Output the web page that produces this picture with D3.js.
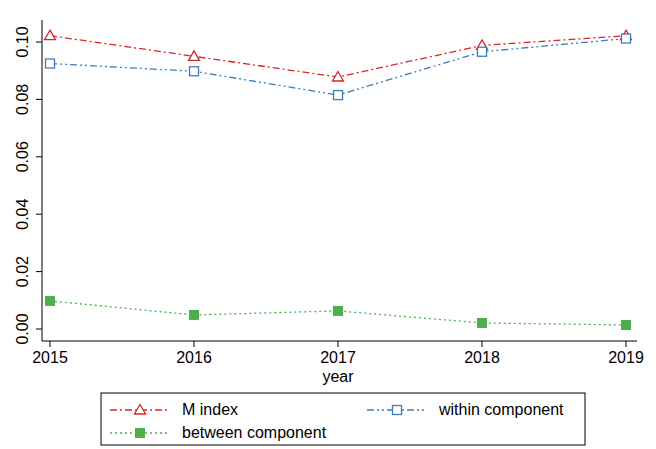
<!DOCTYPE html>
<html><head><meta charset="utf-8">
<script src="https://cdn.jsdelivr.net/npm/d3@7"></script>
<style>body{margin:0;background:#fff}text{font-family:"Liberation Sans",Arial,sans-serif}</style>
</head><body>
<script>
var years = [2015, 2016, 2017, 2018, 2019];
var mIndex = [0.1022, 0.0950, 0.0878, 0.0988, 0.1022];
var within = [0.0925, 0.0898, 0.0815, 0.0966, 0.1012];
var between = [0.0098, 0.0049, 0.0063, 0.0021, 0.0014];
var yTicks = [0, 0.02, 0.04, 0.06, 0.08, 0.10];

var w = 656, h = 449;
var svg = d3.select("body").append("svg").attr("width", w).attr("height", h);
var x = d3.scaleLinear().domain([2015, 2019]).range([50, 626]);
var y = d3.scaleLinear().domain([0, 0.1]).range([329, 42]);

// axes
svg.append("line").attr("x1", 42).attr("x2", 637).attr("y1", 341).attr("y2", 341).attr("stroke", "#000");
svg.append("line").attr("x1", 42).attr("x2", 42).attr("y1", 20).attr("y2", 341).attr("stroke", "#000");
years.forEach(function(t){
  svg.append("line").attr("x1", x(t)).attr("x2", x(t)).attr("y1", 341).attr("y2", 347).attr("stroke", "#000");
  svg.append("text").attr("x", x(t)).attr("y", 363).attr("text-anchor", "middle").attr("font-size", 16).text(t);
});
yTicks.forEach(function(t){
  svg.append("line").attr("x1", 36).attr("x2", 42).attr("y1", y(t)).attr("y2", y(t)).attr("stroke", "#000");
  svg.append("text").attr("transform", "translate(28," + y(t) + ") rotate(-90)")
    .attr("text-anchor", "middle").attr("font-size", 16).text(d3.format(".2f")(t));
});
svg.append("text").attr("x", 338).attr("y", 382).attr("text-anchor", "middle").attr("font-size", 16).text("year");

var line = d3.line().x(function(d, i){ return x(years[i]); }).y(function(d){ return y(d); });
var series = [
  {data: mIndex, color: "#d62728", dash: "7,3,2,3", mark: "tri"},
  {data: within, color: "#3a7dbf", dash: "7,3,2,3,2,3", mark: "sq"},
  {data: between, color: "#4bb04b", dash: "2,3", mark: "fsq"}
];
function marker(g, kind, c, px, py){
  if (kind === "tri") g.append("path").attr("d", "M" + px + "," + (py - 5.5) + "L" + (px + 5.5) + "," + (py + 4) + "L" + (px - 5.5) + "," + (py + 4) + "Z")
    .attr("fill", "#fff").attr("stroke", c).attr("stroke-width", 1.3);
  else if (kind === "sq") g.append("rect").attr("x", px - 4.5).attr("y", py - 4.5).attr("width", 9).attr("height", 9)
    .attr("fill", "#fff").attr("stroke", c).attr("stroke-width", 1.3);
  else g.append("rect").attr("x", px - 5).attr("y", py - 5).attr("width", 10).attr("height", 10).attr("fill", c);
}
series.forEach(function(s){
  svg.append("path").datum(s.data).attr("d", line).attr("fill", "none")
    .attr("stroke", s.color).attr("stroke-width", 1.3).attr("stroke-dasharray", s.dash);
  s.data.forEach(function(v, i){ marker(svg, s.mark, s.color, x(years[i]), y(v)); });
});

// legend
svg.append("rect").attr("x", 101).attr("y", 393).attr("width", 484).attr("height", 52).attr("fill", "#fff").attr("stroke", "#000");
var leg = [
  {s: series[0], lx: 110, ly: 410, label: "M index"},
  {s: series[2], lx: 110, ly: 433, label: "between component"},
  {s: series[1], lx: 367, ly: 410, label: "within component"}
];
leg.forEach(function(l){
  svg.append("line").attr("x1", l.lx).attr("x2", l.lx + 60).attr("y1", l.ly).attr("y2", l.ly)
    .attr("stroke", l.s.color).attr("stroke-width", 1.3).attr("stroke-dasharray", l.s.dash);
  marker(svg, l.s.mark, l.s.color, l.lx + 30, l.ly);
  svg.append("text").attr("x", l.lx + 72).attr("y", l.ly + 5).attr("font-size", 16).text(l.label);
});
</script>
</body></html>
